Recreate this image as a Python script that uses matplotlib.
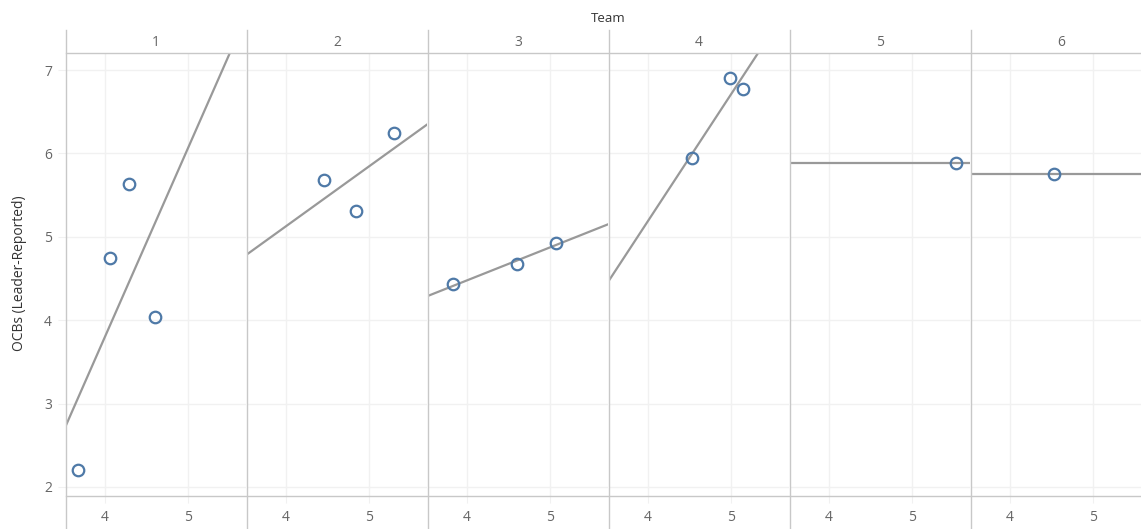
import numpy as np
import matplotlib
matplotlib.use("Agg")
import matplotlib.pyplot as plt
from matplotlib.lines import Line2D

plt.rcParams['font.family'] = ['Open Sans', 'DejaVu Sans']

# Leader-rated OCBs against the x measure, one group of points per team
teams = ["1", "2", "3", "4", "5", "6"]
team_x = [
    [3.675, 4.06, 4.29, 4.60],
    [4.454, 4.84, 5.30],
    [3.835, 4.606, 5.07],
    [4.53, 4.988, 5.145],
    [5.53],
    [4.53],
]
team_y = [
    [2.20, 4.75, 5.63, 4.04],
    [5.68, 5.31, 6.25],
    [4.43, 4.67, 4.93],
    [5.94, 6.90, 6.77],
    [5.88],
    [5.75],
]
x_ticks = [4, 5]
y_ticks = [2, 3, 4, 5, 6, 7]
x_range = (3.53, 5.70)
y_range = (1.892, 7.204)

W, H = 1141, 529
fig = plt.figure(figsize=(W / 100, H / 100), dpi=100)
fig.patch.set_facecolor("white")

def fx(px):
    return px / W

def fy(py):
    return 1 - py / H

grid_c = "#f1f1f1"
sep_c = "#c8c8c8"
tick_c = "#666666"
mark_c = "#4e79a7"
trend_c = "#999999"

panel_w = 180
top, bottom = 53, 496
for i, (name, xs, ys) in enumerate(zip(teams, team_x, team_y)):
    left = 66 + 181 * i
    ax = fig.add_axes([fx(left), fy(bottom), panel_w / W, (bottom - top) / H])
    ax.set_xlim(*x_range)
    ax.set_ylim(*y_range)
    for s in ax.spines.values():
        s.set_visible(False)
    ax.set_xticks(x_ticks)
    ax.set_yticks(y_ticks)
    ax.grid(True, color=grid_c, lw=1.0)
    ax.set_axisbelow(True)
    ax.tick_params(axis="x", length=5, color=grid_c, labelsize=10,
                   labelcolor=tick_c, pad=5)
    if i == 0:
        ax.tick_params(axis="y", length=6, color=grid_c, labelsize=10,
                       labelcolor=tick_c, pad=4)
    else:
        ax.tick_params(axis="y", length=0, labelleft=False)

    xs = np.asarray(xs)
    ys = np.asarray(ys)
    lx = np.array(x_range)
    if len(xs) > 1:
        slope, icpt = np.polyfit(xs, ys, 1)
        ly = slope * lx + icpt
    else:
        ly = np.full(2, ys.mean())
    ax.plot(lx, ly, color=trend_c, lw=1.6, zorder=2)
    ax.plot(xs, ys, linestyle="none", marker="o", markersize=8.3,
            markerfacecolor="none", markeredgecolor=mark_c,
            markeredgewidth=1.6, zorder=3)

    fig.text(fx(left + panel_w / 2), fy(42), name, ha="center", va="center",
             fontsize=10, color=tick_c)

# panel separators and header/axis rules
for i in range(6):
    xp = 66 + 181 * i
    fig.add_artist(Line2D([fx(xp), fx(xp)], [fy(30), fy(529)],
                          transform=fig.transFigure, color=sep_c, lw=1.0))
for yp in (53, 496):
    fig.add_artist(Line2D([fx(66), 1], [fy(yp), fy(yp)],
                          transform=fig.transFigure, color=sep_c, lw=1.0))

fig.text(fx(608), fy(18), "Team", ha="center", va="center", fontsize=9.5,
         color="#333333", fontweight="medium")
fig.text(fx(20), fy(273), "OCBs (Leader-Reported)", ha="center", va="center",
         rotation=90, fontsize=10, color="#333333", fontweight="medium")

fig.savefig("out.png", dpi=100)
